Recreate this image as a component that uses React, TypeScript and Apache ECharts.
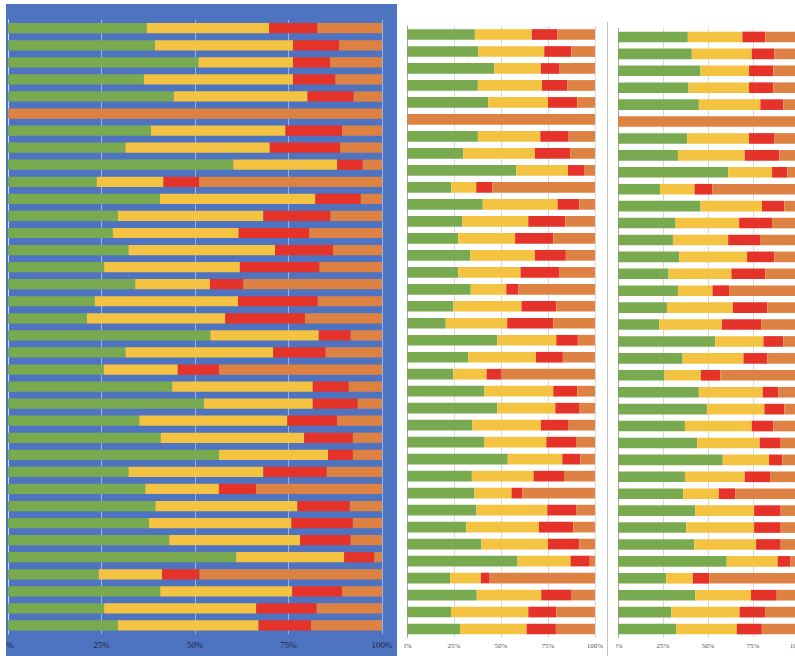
import React, { useEffect, useRef } from "react";
import * as echarts from "echarts";

const categories = [
  "R1", "R2", "R3", "R4", "R5", "R6", "R7", "R8", "R9", "R10", "R11", "R12",
  "R13", "R14", "R15", "R16", "R17", "R18", "R19", "R20", "R21", "R22", "R23", "R24",
  "R25", "R26", "R27", "R28", "R29", "R30", "R31", "R32", "R33", "R34", "R35", "R36",
];
const tickValues = [0, 25, 50, 75, 100];

// Panel A (left, blue background)
const aGreen = [37.1, 39.3, 50.9, 36.3, 44.3, 0, 38.2, 31.4, 60.2, 23.7, 40.6, 29.4, 28.0, 32.2, 25.7, 34.0, 23.2, 21.1, 54.1, 31.4, 25.6, 43.9, 52.4, 35.1, 40.8, 56.4, 32.2, 36.7, 39.4, 37.7, 43.1, 61.0, 24.2, 40.7, 25.7, 29.4];
const aYellow = [32.7, 36.9, 25.3, 39.9, 35.8, 0, 36.0, 38.6, 27.8, 17.9, 41.6, 38.9, 33.7, 39.2, 36.3, 20.0, 38.3, 37.0, 29.0, 39.5, 19.8, 37.6, 29.1, 39.6, 38.4, 29.2, 36.1, 19.7, 38.0, 38.1, 35.0, 28.9, 17.0, 35.3, 40.7, 37.6];
const aRed = [12.9, 12.3, 9.9, 11.3, 12.3, 0, 15.1, 18.8, 6.8, 9.5, 12.1, 17.9, 18.8, 15.5, 21.3, 8.9, 21.3, 21.3, 8.5, 14.0, 11.0, 9.6, 12.0, 13.3, 13.0, 6.6, 16.9, 9.9, 14.0, 16.4, 13.5, 8.0, 10.0, 13.3, 16.1, 14.0];
const aOrange = [17.3, 11.5, 13.9, 12.5, 7.6, 100, 10.7, 11.2, 5.2, 48.9, 5.7, 13.8, 19.5, 13.1, 16.7, 37.1, 17.2, 20.6, 8.4, 15.1, 43.6, 8.9, 6.5, 12.0, 7.8, 7.8, 14.8, 33.7, 8.6, 7.8, 8.4, 2.1, 48.8, 10.7, 17.5, 19.0];

// Panel B (middle)
const bGreen = [36.1, 38.0, 46.5, 37.7, 43.2, 0, 37.7, 30.0, 58.1, 23.6, 40.3, 29.5, 27.2, 33.6, 27.2, 33.9, 24.7, 20.6, 48.0, 32.5, 24.7, 41.2, 48.0, 34.8, 41.2, 53.6, 34.5, 35.7, 36.9, 31.6, 39.6, 58.8, 22.9, 37.1, 23.4, 28.2];
const bYellow = [30.3, 35.0, 24.7, 34.1, 31.8, 0, 33.2, 38.0, 27.5, 13.2, 39.8, 35.0, 30.3, 34.4, 33.2, 18.9, 36.2, 32.7, 31.4, 36.1, 17.6, 36.6, 30.9, 36.4, 32.9, 29.0, 32.8, 19.9, 37.7, 38.6, 35.4, 28.2, 16.4, 34.3, 41.1, 35.4];
const bRed = [13.7, 14.4, 10.0, 13.6, 15.6, 0, 15.1, 19.0, 8.9, 8.5, 11.6, 19.7, 20.3, 16.5, 20.8, 6.5, 18.5, 24.5, 11.5, 14.3, 8.0, 12.8, 12.6, 14.8, 15.8, 9.6, 16.2, 5.9, 15.6, 18.3, 16.7, 10.2, 4.7, 16.2, 14.9, 15.6];
const bOrange = [19.9, 12.6, 18.8, 14.6, 9.4, 100, 14.0, 13.0, 5.5, 54.7, 8.3, 15.8, 22.2, 15.5, 18.8, 40.7, 20.6, 22.2, 9.1, 17.1, 49.7, 9.4, 8.5, 14.0, 10.1, 7.8, 16.5, 38.5, 9.8, 11.5, 8.3, 2.8, 56.0, 12.4, 20.6, 20.8];

// Panel C (right)
const cGreen = [38.8, 41.0, 45.8, 39.2, 44.9, 0, 38.4, 33.3, 61.2, 23.3, 45.8, 32.0, 30.5, 34.0, 28.1, 33.3, 27.2, 22.9, 54.0, 35.9, 25.9, 44.9, 49.4, 37.2, 44.0, 58.2, 37.2, 36.2, 42.9, 37.9, 42.3, 60.4, 26.8, 42.9, 29.6, 32.5];
const cYellow = [30.3, 33.3, 27.0, 33.6, 34.2, 0, 34.4, 37.1, 24.4, 19.2, 34.2, 35.3, 30.7, 37.7, 34.9, 19.2, 36.6, 34.8, 26.8, 33.8, 20.1, 35.5, 31.9, 37.1, 34.7, 25.7, 33.2, 19.8, 32.7, 37.7, 34.4, 28.3, 14.8, 31.0, 37.9, 33.5];
const cRed = [12.8, 12.6, 13.5, 13.5, 12.8, 0, 13.9, 19.2, 8.5, 10.0, 12.4, 18.3, 17.7, 15.2, 18.9, 9.2, 19.2, 21.8, 11.1, 13.3, 10.9, 8.7, 11.1, 12.0, 11.3, 7.4, 14.4, 9.1, 14.8, 14.4, 13.7, 7.2, 9.2, 14.3, 14.2, 13.9];
const cOrange = [18.1, 13.1, 13.7, 13.7, 8.1, 100, 13.3, 10.4, 5.9, 47.5, 7.6, 14.4, 21.1, 13.1, 18.1, 38.3, 17.0, 20.5, 8.1, 17.0, 43.1, 10.9, 7.6, 13.7, 10.0, 8.7, 15.2, 34.9, 9.6, 10.0, 9.6, 4.1, 49.2, 11.8, 18.3, 20.1];

const COLORS = ["#7aaa50", "#f5c342", "#e6332a", "#de8244"];

type PanelCfg = {
  data: number[][];
  grid: { left: number; right: number; top: number; bottom: number };
  gap: string;
  labelColor: string;
  labelSize: number;
  labelMargin: number;
  splitColor: string;
  axisColor: string;
};

function buildOption(cfg: PanelCfg) {
  const names = ["Green", "Yellow", "Red", "Orange"];
  return {
    animation: false,
    grid: { ...cfg.grid, containLabel: false, outerBoundsMode: "none" },
    xAxis: {
      type: "value",
      min: tickValues[0],
      max: tickValues[tickValues.length - 1],
      interval: 25,
      axisLine: { show: false },
      axisTick: { show: false },
      splitLine: { show: true, lineStyle: { color: cfg.splitColor, width: 1 } },
      axisLabel: {
        formatter: "{value}%",
        color: cfg.labelColor,
        fontSize: cfg.labelSize,
        fontFamily: "Liberation Serif",
        margin: cfg.labelMargin,
        hideOverlap: false,
      },
    },
    yAxis: {
      type: "category",
      data: categories,
      inverse: true,
      axisLabel: { show: false },
      axisTick: { show: false },
      axisLine: { show: true, lineStyle: { color: cfg.axisColor, width: 1 } },
      splitLine: { show: false },
    },
    series: cfg.data.map((d, i) => ({
      name: names[i],
      type: "bar",
      stack: "total",
      data: d,
      barCategoryGap: cfg.gap,
      itemStyle: { color: COLORS[i] },
      emphasis: { disabled: true },
    })),
  };
}

function Panel(props: { cfg: PanelCfg; style: React.CSSProperties }) {
  const ref = useRef<HTMLDivElement>(null);
  useEffect(() => {
    if (!ref.current) return;
    const chart = echarts.init(ref.current, undefined, { renderer: "svg" });
    chart.setOption(buildOption(props.cfg) as any);
    return () => chart.dispose();
  }, []);
  return <div ref={ref} style={{ position: "absolute", ...props.style }} />;
}

export default function App() {
  useEffect(() => {
    document.body.style.margin = "0";
  }, []);

  const left: PanelCfg = {
    data: [aGreen, aYellow, aRed, aOrange],
    grid: { left: 2, right: 15, top: 15.7, bottom: 22 },
    gap: "40%",
    labelColor: "#1c2540",
    labelSize: 9,
    labelMargin: 6,
    splitColor: "rgba(220,230,250,0.55)",
    axisColor: "rgba(220,230,250,0.75)",
  };
  const mid: PanelCfg = {
    data: [bGreen, bYellow, bRed, bOrange],
    grid: { left: 3, right: 11, top: 26, bottom: 18.5 },
    gap: "37%",
    labelColor: "#555555",
    labelSize: 7,
    labelMargin: 5,
    splitColor: "#d9d9d9",
    axisColor: "#a6a6a6",
  };
  const right: PanelCfg = {
    data: [cGreen, cYellow, cRed, cOrange],
    grid: { left: 2, right: 8, top: 28.5, bottom: 18.5 },
    gap: "37%",
    labelColor: "#555555",
    labelSize: 7,
    labelMargin: 5,
    splitColor: "#d9d9d9",
    axisColor: "#a6a6a6",
  };

  return (
    <div
      style={{
        position: "relative",
        width: 795,
        height: 656,
        overflow: "hidden",
        background: "#ffffff",
      }}
    >
      <div
        style={{
          position: "absolute",
          left: 6,
          top: 4,
          width: 391,
          height: 652,
          background: "#4e73c0",
        }}
      />
      <Panel cfg={left} style={{ left: 6, top: 4, width: 391, height: 652, overflow: "hidden" }} />
      <Panel cfg={mid} style={{ left: 404, top: 0, width: 202, height: 656, overflow: "hidden" }} />
      <div
        style={{
          position: "absolute",
          left: 607,
          top: 22,
          width: 1,
          height: 634,
          background: "#c4c4c4",
        }}
      />
      <Panel cfg={right} style={{ left: 616, top: 0, width: 190, height: 656, overflow: "hidden" }} />
    </div>
  );
}
